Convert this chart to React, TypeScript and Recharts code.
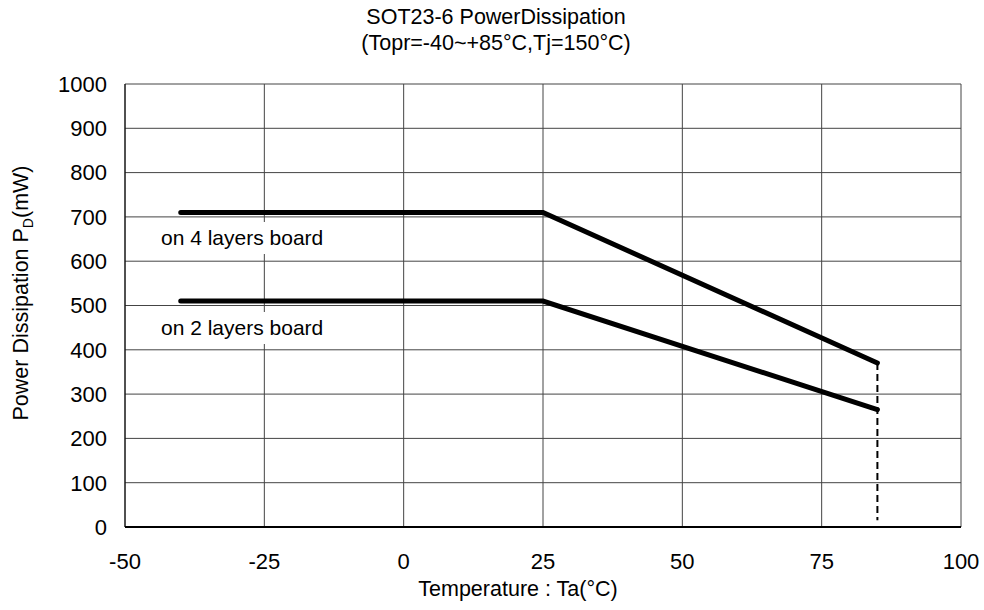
import React from 'react';
import { LineChart, Line, XAxis, YAxis, CartesianGrid } from 'recharts';

// temperature points (°C) and power (mW)
const tempPoints = [-40, 25, 85];
const power4Layers = [710, 710, 370];
const power2Layers = [510, 510, 265];
const limitTemps = [85, 85];
const limitPower = [370, 15];

const xTicks = [-50, -25, 0, 25, 50, 75, 100];
const yTicks = [0, 100, 200, 300, 400, 500, 600, 700, 800, 900, 1000];

const toRows = (xs: number[], ys: number[]) => xs.map((t, i) => ({ t, p: ys[i] }));

const data4 = toRows(tempPoints, power4Layers);
const data2 = toRows(tempPoints, power2Layers);
const dataLimit = toRows(limitTemps, limitPower);

const FONT = '"Liberation Sans", Arial, sans-serif';

const App: React.FC = () => {
  const tickStyle = { fontSize: 22, fill: '#000', fontFamily: FONT };

  return (
    <div style={{ position: 'relative', width: 984, height: 610, fontFamily: FONT, color: '#000' }}>
      <style>{'body { margin: 0; }'}</style>
      <LineChart
        width={984}
        height={610}
        margin={{ top: 84, right: 23, bottom: 43, left: 65 }}
      >
        <CartesianGrid stroke="#444" strokeWidth={1} />
        <XAxis
          dataKey="t"
          type="number"
          domain={[-50, 100]}
          ticks={xTicks}
          height={40}
          tickSize={0}
          tickMargin={26}
          tick={tickStyle}
          axisLine={{ stroke: '#000', strokeWidth: 2 }}
          allowDataOverflow
        />
        <YAxis
          dataKey="p"
          type="number"
          domain={[0, 1000]}
          ticks={yTicks}
          width={60}
          tickSize={0}
          tickMargin={18}
          tick={tickStyle}
          axisLine={{ stroke: '#000', strokeWidth: 1 }}
        />
        <Line
          data={data4}
          dataKey="p"
          stroke="#000"
          strokeWidth={5}
          strokeLinecap="round"
          dot={false}
          isAnimationActive={false}
        />
        <Line
          data={data2}
          dataKey="p"
          stroke="#000"
          strokeWidth={5}
          strokeLinecap="round"
          dot={false}
          isAnimationActive={false}
        />
        <Line
          data={dataLimit}
          dataKey="p"
          stroke="#000"
          strokeWidth={2}
          strokeDasharray="7 4"
          dot={false}
          isAnimationActive={false}
        />
      </LineChart>

      {/* title */}
      <div
        style={{
          position: 'absolute',
          left: 8,
          top: 4,
          width: 976,
          textAlign: 'center',
          fontSize: 21.5,
          lineHeight: '26px',
        }}
      >
        <div>SOT23-6 PowerDissipation</div>
        <div>(Topr=-40~+85°C,Tj=150°C)</div>
      </div>

      {/* board annotations */}
      <div
        style={{
          position: 'absolute',
          left: 157,
          top: 222,
          padding: '0 4px',
          background: '#fff',
          fontSize: 21,
          lineHeight: '32px',
        }}
      >
        on 4 layers board
      </div>
      <div
        style={{
          position: 'absolute',
          left: 157,
          top: 312,
          padding: '0 4px',
          background: '#fff',
          fontSize: 21,
          lineHeight: '32px',
        }}
      >
        on 2 layers board
      </div>

      {/* y axis title */}
      <div
        style={{
          position: 'absolute',
          left: 21 - 160,
          top: 293 - 13,
          width: 320,
          height: 26,
          lineHeight: '26px',
          textAlign: 'center',
          fontSize: 21.5,
          whiteSpace: 'nowrap',
          transform: 'rotate(-90deg)',
        }}
      >
        Power Dissipation P
        <span style={{ fontSize: 14, position: 'relative', top: 5 }}>D</span>
        (mW)
      </div>

      {/* x axis title */}
      <div
        style={{
          position: 'absolute',
          left: 318,
          top: 578,
          width: 400,
          textAlign: 'center',
          fontSize: 21.5,
          lineHeight: '22px',
        }}
      >
        Temperature : Ta(°C)
      </div>
    </div>
  );
};

export default App;
